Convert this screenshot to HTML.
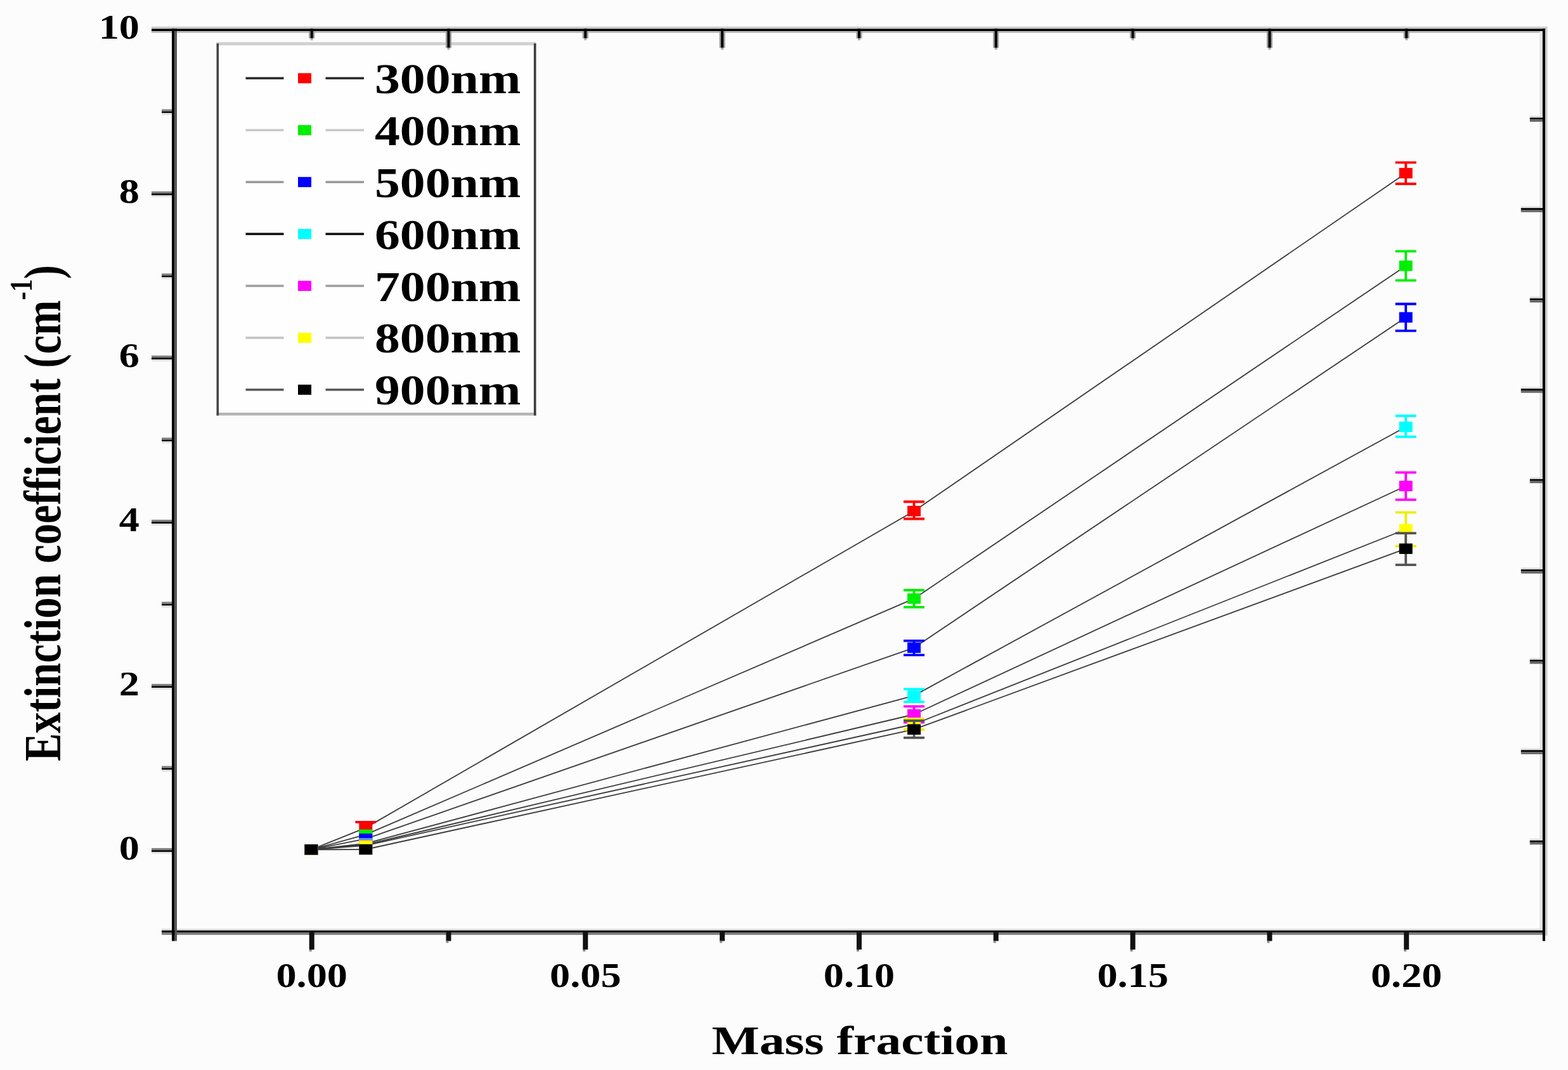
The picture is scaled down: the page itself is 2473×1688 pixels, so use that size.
<!DOCTYPE html><html><head><meta charset="utf-8"><title>Extinction coefficient vs Mass fraction</title><style>html,body{margin:0;padding:0;background:#fcfcfc;}svg{display:block;}</style></head><body>
<svg width="2473" height="1688" viewBox="0 0 2473 1688">
<rect x="0" y="0" width="2473" height="1688" fill="#fcfcfc"/>
<g fill="none" stroke="#3a3a3a" stroke-width="1.8" stroke-linejoin="round">
<polyline points="490.8,1340.3 576.8,1305.9 1441.6,806.3 2217.2,273.2"/>
<polyline points="490.8,1340.3 576.8,1316.7 1441.6,944.4 2217.2,419.4"/>
<polyline points="490.8,1340.3 576.8,1323.3 1441.6,1021.8 2217.2,500.7"/>
<polyline points="490.8,1340.3 576.8,1330.7 1441.6,1097.4 2217.2,673.5"/>
<polyline points="490.8,1340.3 576.8,1332.5 1441.6,1127.0 2217.2,766.7"/>
<polyline points="490.8,1340.3 576.8,1333.8 1441.6,1142.5 2217.2,835.0"/>
<polyline points="490.8,1340.3 576.8,1340.0 1441.6,1150.7 2217.2,865.6"/>
</g>
<g><rect x="480.3" y="1332.0" width="21" height="16.5" fill="#ff0000"/><path d="M576.8,1305.9V1296.9M560.3,1296.9H593.3" stroke="#ff0000" stroke-width="3.8" fill="none"/><rect x="566.3" y="1297.7" width="21" height="16.5" fill="#ff0000"/><path d="M1441.6,806.3V791.5M1425.1,791.5H1458.1M1441.6,806.3V818.5M1425.1,818.5H1458.1" stroke="#ff0000" stroke-width="3.8" fill="none"/><rect x="1431.1" y="798.0" width="21" height="16.5" fill="#ff0000"/><path d="M2217.2,273.2V256.3M2200.7,256.3H2233.7M2217.2,273.2V290.0M2200.7,290.0H2233.7" stroke="#ff0000" stroke-width="3.8" fill="none"/><rect x="2206.7" y="264.9" width="21" height="16.5" fill="#ff0000"/></g>
<g><rect x="480.3" y="1332.0" width="21" height="16.5" fill="#00ee00"/><rect x="566.3" y="1308.5" width="21" height="16.5" fill="#00ee00"/><path d="M1441.6,944.4V931.0M1425.1,931.0H1458.1M1441.6,944.4V957.8M1425.1,957.8H1458.1" stroke="#00ee00" stroke-width="3.8" fill="none"/><rect x="1431.1" y="936.1" width="21" height="16.5" fill="#00ee00"/><path d="M2217.2,419.4V396.3M2200.7,396.3H2233.7M2217.2,419.4V442.4M2200.7,442.4H2233.7" stroke="#00ee00" stroke-width="3.8" fill="none"/><rect x="2206.7" y="411.1" width="21" height="16.5" fill="#00ee00"/></g>
<g><rect x="480.3" y="1332.0" width="21" height="16.5" fill="#0000ff"/><rect x="566.3" y="1315.0" width="21" height="16.5" fill="#0000ff"/><path d="M1441.6,1021.8V1010.8M1425.1,1010.8H1458.1M1441.6,1021.8V1033.3M1425.1,1033.3H1458.1" stroke="#0000ff" stroke-width="3.8" fill="none"/><rect x="1431.1" y="1013.5" width="21" height="16.5" fill="#0000ff"/><path d="M2217.2,500.7V479.5M2200.7,479.5H2233.7M2217.2,500.7V521.9M2200.7,521.9H2233.7" stroke="#0000ff" stroke-width="3.8" fill="none"/><rect x="2206.7" y="492.4" width="21" height="16.5" fill="#0000ff"/></g>
<g><rect x="480.3" y="1332.0" width="21" height="16.5" fill="#00ffff"/><rect x="566.3" y="1322.5" width="21" height="16.5" fill="#00ffff"/><path d="M1441.6,1097.4V1087.2M1425.1,1087.2H1458.1M1441.6,1097.4V1107.4M1425.1,1107.4H1458.1" stroke="#00ffff" stroke-width="3.8" fill="none"/><rect x="1431.1" y="1089.2" width="21" height="16.5" fill="#00ffff"/><path d="M2217.2,673.5V656.0M2200.7,656.0H2233.7M2217.2,673.5V689.0M2200.7,689.0H2233.7" stroke="#00ffff" stroke-width="3.8" fill="none"/><rect x="2206.7" y="665.2" width="21" height="16.5" fill="#00ffff"/></g>
<g><rect x="480.3" y="1332.0" width="21" height="16.5" fill="#ff00ff"/><rect x="566.3" y="1324.2" width="21" height="16.5" fill="#ff00ff"/><path d="M1441.6,1127.0V1114.4M1425.1,1114.4H1458.1M1441.6,1127.0V1139.6M1425.1,1139.6H1458.1" stroke="#ff00ff" stroke-width="3.8" fill="none"/><rect x="1431.1" y="1118.8" width="21" height="16.5" fill="#ff00ff"/><path d="M2217.2,766.7V745.4M2200.7,745.4H2233.7M2217.2,766.7V788.3M2200.7,788.3H2233.7" stroke="#ff00ff" stroke-width="3.8" fill="none"/><rect x="2206.7" y="758.5" width="21" height="16.5" fill="#ff00ff"/></g>
<g><rect x="480.3" y="1332.0" width="21" height="16.5" fill="#ffff00"/><rect x="566.3" y="1325.5" width="21" height="16.5" fill="#ffff00"/><path d="M1441.6,1142.5V1134.0M1425.1,1134.0H1458.1M1441.6,1142.5V1151.0M1425.1,1151.0H1458.1" stroke="#eeee00" stroke-width="3.8" fill="none"/><rect x="1431.1" y="1134.2" width="21" height="16.5" fill="#ffff00"/><path d="M2217.2,835.0V808.4M2200.7,808.4H2233.7M2217.2,835.0V861.6M2200.7,861.6H2233.7" stroke="#eeee00" stroke-width="3.8" fill="none"/><rect x="2206.7" y="826.8" width="21" height="16.5" fill="#ffff00"/></g>
<g><rect x="480.3" y="1332.0" width="21" height="16.5" fill="#000000"/><rect x="566.3" y="1331.8" width="21" height="16.5" fill="#000000"/><path d="M1441.6,1150.7V1137.0M1425.1,1137.0H1458.1M1441.6,1150.7V1163.8M1425.1,1163.8H1458.1" stroke="#555555" stroke-width="3.8" fill="none"/><rect x="1431.1" y="1142.5" width="21" height="16.5" fill="#000000"/><path d="M2217.2,865.6V841.2M2200.7,841.2H2233.7M2217.2,865.6V891.2M2200.7,891.2H2233.7" stroke="#555555" stroke-width="3.8" fill="none"/><rect x="2206.7" y="857.4" width="21" height="16.5" fill="#000000"/></g>
<rect x="341.5" y="66.5" width="504.0" height="589.0" fill="#fefefe"/>
<rect x="341.5" y="66.5" width="504.0" height="5" fill="#d0d0d0"/>
<rect x="341.5" y="651.0" width="504.0" height="4.5" fill="#b4b4b4"/>
<rect x="341.5" y="68.5" width="3.6" height="587.0" fill="#454545"/>
<rect x="841.9" y="68.5" width="3.6" height="587.0" fill="#3a3a3a"/>
<rect x="387.5" y="121.6" width="60" height="3.6" fill="#2a2a2a"/>
<rect x="513.5" y="121.6" width="60.5" height="3.6" fill="#2a2a2a"/>
<rect x="470.0" y="115.4" width="21" height="16" fill="#ff0000"/>
<text transform="translate(591,146.9) scale(1.19,1)" style="font-family:'Liberation Serif','Times New Roman',serif;font-weight:bold" font-size="67" fill="#000">300nm</text>
<rect x="387.5" y="203.5" width="60" height="3.6" fill="#c8c8c8"/>
<rect x="513.5" y="203.5" width="60.5" height="3.6" fill="#c8c8c8"/>
<rect x="470.0" y="197.3" width="21" height="16" fill="#00ee00"/>
<text transform="translate(591,228.8) scale(1.19,1)" style="font-family:'Liberation Serif','Times New Roman',serif;font-weight:bold" font-size="67" fill="#000">400nm</text>
<rect x="387.5" y="285.4" width="60" height="3.6" fill="#9a9a9a"/>
<rect x="513.5" y="285.4" width="60.5" height="3.6" fill="#9a9a9a"/>
<rect x="470.0" y="279.2" width="21" height="16" fill="#0000ff"/>
<text transform="translate(591,310.7) scale(1.19,1)" style="font-family:'Liberation Serif','Times New Roman',serif;font-weight:bold" font-size="67" fill="#000">500nm</text>
<rect x="387.5" y="367.3" width="60" height="3.6" fill="#111111"/>
<rect x="513.5" y="367.3" width="60.5" height="3.6" fill="#111111"/>
<rect x="470.0" y="361.1" width="21" height="16" fill="#00ffff"/>
<text transform="translate(591,392.6) scale(1.19,1)" style="font-family:'Liberation Serif','Times New Roman',serif;font-weight:bold" font-size="67" fill="#000">600nm</text>
<rect x="387.5" y="449.2" width="60" height="3.6" fill="#a0a0a0"/>
<rect x="513.5" y="449.2" width="60.5" height="3.6" fill="#a0a0a0"/>
<rect x="470.0" y="443.0" width="21" height="16" fill="#ff00ff"/>
<text transform="translate(591,474.5) scale(1.19,1)" style="font-family:'Liberation Serif','Times New Roman',serif;font-weight:bold" font-size="67" fill="#000">700nm</text>
<rect x="387.5" y="531.1" width="60" height="3.6" fill="#c4c4c4"/>
<rect x="513.5" y="531.1" width="60.5" height="3.6" fill="#c4c4c4"/>
<rect x="470.0" y="524.9" width="21" height="16" fill="#ffff00"/>
<text transform="translate(591,556.4) scale(1.19,1)" style="font-family:'Liberation Serif','Times New Roman',serif;font-weight:bold" font-size="67" fill="#000">800nm</text>
<rect x="387.5" y="613.0" width="60" height="3.6" fill="#5a5a5a"/>
<rect x="513.5" y="613.0" width="60.5" height="3.6" fill="#5a5a5a"/>
<rect x="470.0" y="606.8" width="21" height="16" fill="#000000"/>
<text transform="translate(591,638.3) scale(1.19,1)" style="font-family:'Liberation Serif','Times New Roman',serif;font-weight:bold" font-size="67" fill="#000">900nm</text>
<g fill="#000">
<rect x="239" y="41.9" width="2198" height="3.4" fill="#cdcdcd"/>
<rect x="239" y="49.2" width="2198" height="2.6" fill="#b4b4b4"/>
<rect x="2437" y="42" width="3.5" height="1434" fill="#c9c9c9"/>
<rect x="2428.5" y="49" width="4.3" height="1419" fill="#e2e2e2"/>
<rect x="255" y="1465.2" width="2182" height="2.8" fill="#dadada"/>
<rect x="271" y="45" width="4.5" height="1430"/>
<rect x="275.5" y="45" width="3.5" height="1430" fill="#555"/>
<rect x="239" y="45.4" width="2198" height="3.6"/>
<rect x="2432.9" y="45" width="4.1" height="1430"/>
<rect x="255" y="1467.9" width="2182" height="3.3"/>
<rect x="255" y="1471.2" width="2182" height="3.6" fill="#7a7a7a"/>
<rect x="239" y="1337.9" width="32" height="3.3" fill="#808080"/>
<rect x="239" y="1341.2" width="32" height="2.7"/>
<rect x="239" y="1344.0" width="32" height="3" fill="#e2e2e2"/>
<rect x="255" y="1208.4" width="16" height="3.3" fill="#808080"/>
<rect x="255" y="1211.7" width="16" height="2.7"/>
<rect x="255" y="1214.5" width="16" height="3" fill="#e2e2e2"/>
<rect x="239" y="1078.9" width="32" height="3.3" fill="#808080"/>
<rect x="239" y="1082.2" width="32" height="2.7"/>
<rect x="239" y="1085.0" width="32" height="3" fill="#e2e2e2"/>
<rect x="255" y="949.4" width="16" height="3.3" fill="#808080"/>
<rect x="255" y="952.7" width="16" height="2.7"/>
<rect x="255" y="955.5" width="16" height="3" fill="#e2e2e2"/>
<rect x="239" y="819.9" width="32" height="3.3" fill="#808080"/>
<rect x="239" y="823.2" width="32" height="2.7"/>
<rect x="239" y="826.0" width="32" height="3" fill="#e2e2e2"/>
<rect x="255" y="690.4" width="16" height="3.3" fill="#808080"/>
<rect x="255" y="693.7" width="16" height="2.7"/>
<rect x="255" y="696.5" width="16" height="3" fill="#e2e2e2"/>
<rect x="239" y="560.9" width="32" height="3.3" fill="#808080"/>
<rect x="239" y="564.2" width="32" height="2.7"/>
<rect x="239" y="567.0" width="32" height="3" fill="#e2e2e2"/>
<rect x="255" y="431.4" width="16" height="3.3" fill="#808080"/>
<rect x="255" y="434.7" width="16" height="2.7"/>
<rect x="255" y="437.5" width="16" height="3" fill="#e2e2e2"/>
<rect x="239" y="301.9" width="32" height="3.3" fill="#808080"/>
<rect x="239" y="305.2" width="32" height="2.7"/>
<rect x="239" y="308.0" width="32" height="3" fill="#e2e2e2"/>
<rect x="255" y="172.4" width="16" height="3.3" fill="#808080"/>
<rect x="255" y="175.7" width="16" height="2.7"/>
<rect x="255" y="178.5" width="16" height="3" fill="#e2e2e2"/>
<rect x="275.5" y="1468" width="3.5" height="16.5" fill="#555"/>
<rect x="271" y="1468" width="4.5" height="16.5"/>
<rect x="487.7" y="1468" width="8" height="30.0" fill="#111"/>
<rect x="487.7" y="1498.0" width="4" height="3" fill="#888"/>
<rect x="703.5" y="1468" width="8" height="16.5" fill="#111"/>
<rect x="703.5" y="1484.5" width="4" height="3" fill="#888"/>
<rect x="919.3" y="1468" width="8" height="30.0" fill="#111"/>
<rect x="919.3" y="1498.0" width="4" height="3" fill="#888"/>
<rect x="1135.1" y="1468" width="8" height="16.5" fill="#111"/>
<rect x="1135.1" y="1484.5" width="4" height="3" fill="#888"/>
<rect x="1351.0" y="1468" width="8" height="30.0" fill="#111"/>
<rect x="1351.0" y="1498.0" width="4" height="3" fill="#888"/>
<rect x="1566.8" y="1468" width="8" height="16.5" fill="#111"/>
<rect x="1566.8" y="1484.5" width="4" height="3" fill="#888"/>
<rect x="1782.6" y="1468" width="8" height="30.0" fill="#111"/>
<rect x="1782.6" y="1498.0" width="4" height="3" fill="#888"/>
<rect x="1998.4" y="1468" width="8" height="16.5" fill="#111"/>
<rect x="1998.4" y="1484.5" width="4" height="3" fill="#888"/>
<rect x="2214.2" y="1468" width="8" height="30.0" fill="#111"/>
<rect x="2214.2" y="1498.0" width="4" height="3" fill="#888"/>
<rect x="2432.9" y="1468" width="4.1" height="16.5"/>
<rect x="487.2" y="49" width="9" height="11.5" fill="#9a9a9a"/>
<rect x="489.7" y="45" width="4" height="15.5"/>
<rect x="489.7" y="60.5" width="4" height="3" fill="#aaa"/>
<rect x="703.0" y="49" width="9" height="26.5" fill="#9a9a9a"/>
<rect x="705.5" y="45" width="4" height="30.5"/>
<rect x="705.5" y="75.5" width="4" height="3" fill="#aaa"/>
<rect x="918.8" y="49" width="9" height="11.5" fill="#9a9a9a"/>
<rect x="921.3" y="45" width="4" height="15.5"/>
<rect x="921.3" y="60.5" width="4" height="3" fill="#aaa"/>
<rect x="1134.6" y="49" width="9" height="26.5" fill="#9a9a9a"/>
<rect x="1137.1" y="45" width="4" height="30.5"/>
<rect x="1137.1" y="75.5" width="4" height="3" fill="#aaa"/>
<rect x="1350.5" y="49" width="9" height="11.5" fill="#9a9a9a"/>
<rect x="1353.0" y="45" width="4" height="15.5"/>
<rect x="1353.0" y="60.5" width="4" height="3" fill="#aaa"/>
<rect x="1566.3" y="49" width="9" height="26.5" fill="#9a9a9a"/>
<rect x="1568.8" y="45" width="4" height="30.5"/>
<rect x="1568.8" y="75.5" width="4" height="3" fill="#aaa"/>
<rect x="1782.1" y="49" width="9" height="11.5" fill="#9a9a9a"/>
<rect x="1784.6" y="45" width="4" height="15.5"/>
<rect x="1784.6" y="60.5" width="4" height="3" fill="#aaa"/>
<rect x="1997.9" y="49" width="9" height="26.5" fill="#9a9a9a"/>
<rect x="2000.4" y="45" width="4" height="30.5"/>
<rect x="2000.4" y="75.5" width="4" height="3" fill="#aaa"/>
<rect x="2213.7" y="49" width="9" height="11.5" fill="#9a9a9a"/>
<rect x="2216.2" y="45" width="4" height="15.5"/>
<rect x="2216.2" y="60.5" width="4" height="3" fill="#aaa"/>
<rect x="2412.8" y="182.7" width="20.2" height="2.7" fill="#e0e0e0"/>
<rect x="2412.8" y="185.6" width="20.2" height="2.9"/>
<rect x="2412.8" y="188.5" width="20.2" height="3.6" fill="#666"/>
<rect x="2398.8" y="325.3" width="34.2" height="2.7" fill="#e0e0e0"/>
<rect x="2398.8" y="328.2" width="34.2" height="2.9"/>
<rect x="2398.8" y="331.1" width="34.2" height="3.6" fill="#666"/>
<rect x="2412.8" y="467.8" width="20.2" height="2.7" fill="#e0e0e0"/>
<rect x="2412.8" y="470.7" width="20.2" height="2.9"/>
<rect x="2412.8" y="473.6" width="20.2" height="3.6" fill="#666"/>
<rect x="2398.8" y="610.3" width="34.2" height="2.7" fill="#e0e0e0"/>
<rect x="2398.8" y="613.2" width="34.2" height="2.9"/>
<rect x="2398.8" y="616.1" width="34.2" height="3.6" fill="#666"/>
<rect x="2412.8" y="752.9" width="20.2" height="2.7" fill="#e0e0e0"/>
<rect x="2412.8" y="755.8" width="20.2" height="2.9"/>
<rect x="2412.8" y="758.6" width="20.2" height="3.6" fill="#666"/>
<rect x="2398.8" y="895.4" width="34.2" height="2.7" fill="#e0e0e0"/>
<rect x="2398.8" y="898.3" width="34.2" height="2.9"/>
<rect x="2398.8" y="901.2" width="34.2" height="3.6" fill="#666"/>
<rect x="2412.8" y="1037.9" width="20.2" height="2.7" fill="#e0e0e0"/>
<rect x="2412.8" y="1040.8" width="20.2" height="2.9"/>
<rect x="2412.8" y="1043.7" width="20.2" height="3.6" fill="#666"/>
<rect x="2398.8" y="1180.4" width="34.2" height="2.7" fill="#e0e0e0"/>
<rect x="2398.8" y="1183.3" width="34.2" height="2.9"/>
<rect x="2398.8" y="1186.2" width="34.2" height="3.6" fill="#666"/>
<rect x="2412.8" y="1323.0" width="20.2" height="2.7" fill="#e0e0e0"/>
<rect x="2412.8" y="1325.9" width="20.2" height="2.9"/>
<rect x="2412.8" y="1328.8" width="20.2" height="3.6" fill="#666"/>
</g>
<g style="font-family:'Liberation Serif','Times New Roman',serif;font-weight:bold" fill="#000">
<text transform="translate(220,1356.3) scale(1.19,1)" text-anchor="end" font-size="54">0</text>
<text transform="translate(220,1097.3) scale(1.19,1)" text-anchor="end" font-size="54">2</text>
<text transform="translate(220,838.3) scale(1.19,1)" text-anchor="end" font-size="54">4</text>
<text transform="translate(220,579.3) scale(1.19,1)" text-anchor="end" font-size="54">6</text>
<text transform="translate(220,320.3) scale(1.19,1)" text-anchor="end" font-size="54">8</text>
<text transform="translate(220,61.3) scale(1.19,1)" text-anchor="end" font-size="54">10</text>
<text transform="translate(491.7,1557) scale(1.19,1)" text-anchor="middle" font-size="54">0.00</text>
<text transform="translate(923.3,1557) scale(1.19,1)" text-anchor="middle" font-size="54">0.05</text>
<text transform="translate(1355.0,1557) scale(1.19,1)" text-anchor="middle" font-size="54">0.10</text>
<text transform="translate(1786.6,1557) scale(1.19,1)" text-anchor="middle" font-size="54">0.15</text>
<text transform="translate(2218.2,1557) scale(1.19,1)" text-anchor="middle" font-size="54">0.20</text>
</g>
<g style="font-family:'Liberation Serif','Times New Roman',serif;font-weight:bold" fill="#000">
<text transform="translate(1356,1663) scale(1.265,1)" text-anchor="middle" font-size="63">Mass fraction</text>
<text transform="translate(94.5,809.6) rotate(-90) scale(0.95,1.19)" text-anchor="middle" font-size="70">Extinction coefficient (cm<tspan font-size="42" dy="-37.5">-1</tspan><tspan dy="37.5">)</tspan></text>
</g>
</svg></body></html>
